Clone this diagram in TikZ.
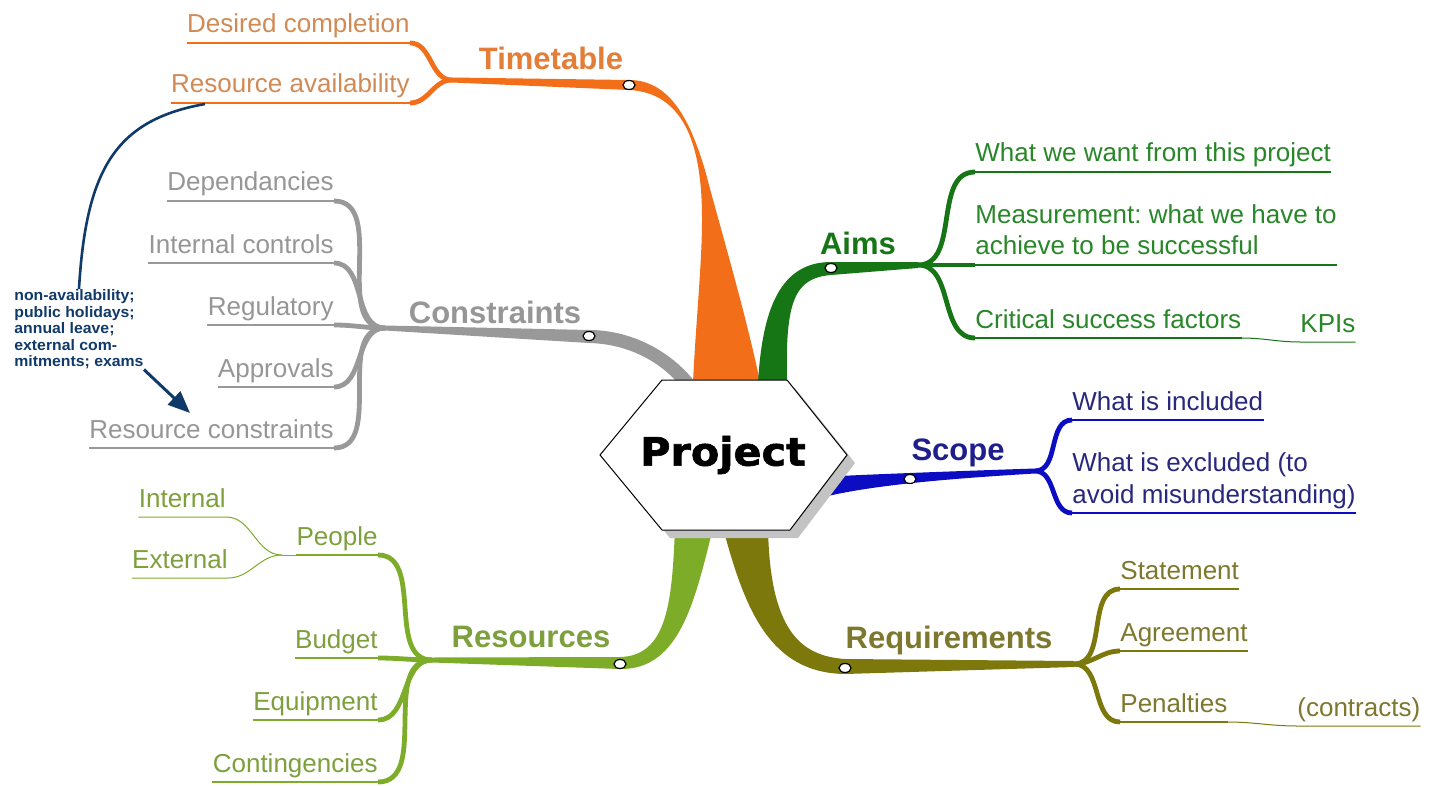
\documentclass[tikz,border=0pt]{standalone}
\usepackage{fontspec}
\setmainfont{Liberation Sans}
\newfontfamily\notefont[FakeStretch=1.04]{Liberation Sans}
\newfontfamily\hubfont[FakeStretch=1.06, FakeBold=1.6]{DejaVu Sans}
\usetikzlibrary{shapes.geometric, arrows.meta}
\frenchspacing

\definecolor{ttline}{RGB}{242,110,25}
\definecolor{tttext}{RGB}{210,138,85}
\definecolor{tttopic}{RGB}{228,125,55}
\definecolor{conline}{RGB}{153,153,153}
\definecolor{context}{RGB}{150,150,150}
\definecolor{aimline}{RGB}{22,118,22}
\definecolor{aimtext}{RGB}{40,135,40}
\definecolor{scpline}{RGB}{12,12,195}
\definecolor{scptext}{RGB}{40,40,125}
\definecolor{scptopic}{RGB}{30,30,140}
\definecolor{reqline}{RGB}{125,120,12}
\definecolor{reqtext}{RGB}{125,120,45}
\definecolor{resline}{RGB}{125,172,40}
\definecolor{restext}{RGB}{125,160,60}
\definecolor{memoblue}{RGB}{15,58,105}
\definecolor{hexshade}{RGB}{195,195,195}

\tikzset{
  leaf/.style={font=\fontsize{13}{16}\selectfont, inner xsep=0pt, inner ysep=2pt, text depth=2.8pt, align=left},
  topic/.style={font=\fontsize{15.5}{18}\selectfont\bfseries, inner sep=0pt},
  knob/.style={ellipse, draw=black, fill=white, line width=0.6pt, minimum width=6pt, minimum height=4.5pt, inner sep=0pt},
  twig/.style={line width=1.4pt},
  bough/.style={line width=2.4pt},
  thread/.style={line width=0.5pt}
}

\begin{document}
\begin{tikzpicture}[x=0.5pt, y=-0.5pt]
    \fill[white] (0,0) rectangle (1433,786);
    \useasboundingbox (0,0) rectangle (1433,786);

    % junctions
    \coordinate (tt-j) at (452,80);
    \coordinate (con-j) at (385,328);
    \coordinate (aim-j) at (918,265);
    \coordinate (scp-j) at (1035,471);
    \coordinate (req-j) at (1074,664);
    \coordinate (res-j) at (432,660);
    \coordinate (ppl-j) at (282,555);

    % topics
    \node[topic, text=tttopic] (tt) at (551,58) {Timetable};
    \node[topic, text=context] (con) at (495,312) {Constraints};
    \node[topic, text=aimline] (aim) at (858,243) {Aims};
    \node[topic, text=scptopic] (scp) at (958,453) {Scope};
    \node[topic, text=reqtext] (req) at (949,640) {Requirements};
    \node[topic, text=restext] (res) at (531,637) {Resources};

    % Timetable
    \node[leaf, anchor=south east, text=tttext] (desired) at (410,43) {Desired completion};
    \node[leaf, anchor=south east, text=tttext] (resavail) at (410,103) {Resource availability};
    \foreach \n in {desired, resavail} {
        \draw[ttline, twig] (\n.south west) -- (\n.south east);
        \draw[ttline, bough] (\n.south east) to[out=0, in=180] (tt-j);
    }

    % Constraints
    \foreach \n/\t/\y in {dep/Dependancies/201, intc/Internal controls/263, reg/Regulatory/325, appr/Approvals/387, rescon/Resource constraints/448} {
        \node[leaf, anchor=south east, text=context] (\n) at (334,\y) {\t};
        \draw[conline, twig] (\n.south west) -- (\n.south east);
        \draw[conline, bough] (\n.south east) to[out=0, in=180] (con-j);
    }

    % Aims
    \node[leaf, anchor=south west, text=aimtext] (want) at (975,172) {What we want from this project};
    \node[leaf, anchor=south west, text=aimtext] (meas) at (975,265) {Measurement: what we have to\\achieve to be successful};
    \node[leaf, anchor=south west, text=aimtext] (csf) at (975,338) {Critical success factors};
    \node[leaf, anchor=south west, text=aimtext] (kpi) at (1300,342) {KPIs};
    \foreach \n in {want, meas, csf} {
        \draw[aimline, bough] (aim-j) to[out=0, in=180] (\n.south west);
        \draw[aimline, twig] (\n.south west) -- (\n.south east);
    }
    \draw[aimline, thread] (csf.south east) to[out=0, in=180] (kpi.south west) -- (kpi.south east);

    % Scope
    \node[leaf, anchor=south west, text=scptext] (incl) at (1072,420) {What is included};
    \node[leaf, anchor=south west, text=scptext] (excl) at (1072,513) {What is excluded (to\\avoid misunderstanding)};
    \foreach \n in {incl, excl} {
        \draw[scpline, bough] (scp-j) to[out=0, in=180] (\n.south west);
        \draw[scpline, twig] (\n.south west) -- (\n.south east);
    }

    % Requirements
    \foreach \n/\t/\y in {stmt/Statement/589, agree/Agreement/651, pen/Penalties/722} {
        \node[leaf, anchor=south west, text=reqtext] (\n) at (1120,\y) {\t};
        \draw[reqline, bough] (req-j) to[out=0, in=180] (\n.south west);
        \draw[reqline, twig] (\n.south west) -- (\n.south east);
    }
    \node[leaf, anchor=south west, text=reqtext] (contr) at (1297,726) {(contracts)};
    \draw[reqline, thread] (pen.south east) to[out=0, in=180] (contr.south west) -- (contr.south east);

    % Resources
    \foreach \n/\t/\y in {people/People/555, budget/Budget/658, equip/Equipment/720, conting/Contingencies/782} {
        \node[leaf, anchor=south east, text=restext] (\n) at (378,\y) {\t};
        \draw[resline, twig] (\n.south west) -- (\n.south east);
        \draw[resline, bough] (\n.south east) to[out=0, in=180] (res-j);
    }
    \node[leaf, anchor=south east, text=restext] (internal) at (226,517) {Internal};
    \node[leaf, anchor=south east, text=restext] (external) at (228,578) {External};
    \foreach \n in {internal, external} {
        \draw[resline, thread] (\n.south west) -- (\n.south east) to[out=0, in=180] (ppl-j);
    }
    \draw[resline, thread] (ppl-j) -- (people.south west);

    % main branches
    \fill[ttline] (452,77.5) -- (629,80) .. controls (670,80) and (690,120) .. (705,170)
        .. controls (718,220) and (745,310) .. (760,382) -- (693,382)
        .. controls (697,300) and (706,230) .. (700,180) .. controls (694,125) and (672,92) .. (629,90)
        -- (452,82.5) -- cycle;
    \fill[conline] (385,325.5) -- (589,330) .. controls (630,330) and (670,350) .. (695,382)
        -- (677,382) .. controls (662,365) and (632,344) .. (589,343) -- (385,330.5) -- cycle;
    \fill[aimline] (758,382) .. controls (762,320) and (775,262) .. (831,262) -- (918,262)
        -- (918,268) -- (831,275) .. controls (795,278) and (785,300) .. (787,382) -- cycle;
    \fill[scpline] (828,496) -- (840,476) .. controls (880,474) and (960,471) .. (1035,468.5)
        -- (1035,473.5) .. controls (960,478) and (880,484) .. (828,496) -- cycle;
    \fill[reqline] (723,528) .. controls (745,610) and (770,673) .. (845,674) -- (1074,667)
        -- (1074,661) -- (845,659) .. controls (800,656) and (770,630) .. (768,528) -- cycle;
    \fill[resline] (675,528) .. controls (672,600) and (668,656) .. (620,657) -- (432,657.5)
        -- (432,662.5) -- (620,669) .. controls (680,670) and (695,600) .. (713,528) -- cycle;

    % hub
    \fill[hexshade] (608,463) -- (670,388) -- (795,388) -- (855,463) -- (798,538) -- (670,538) -- cycle;
    \draw[fill=white, line width=0.5pt] (600,455) -- (662,380) -- (787,380) -- (847,455) -- (790,530) -- (662,530) -- cycle;
    \node[font=\hubfont\bfseries\fontsize{19.5}{22}\selectfont] (project) at (723,455) {Project};

    % knobs
    \node[knob] (tt-k) at (629,85) {};
    \node[knob] (con-k) at (589,336) {};
    \node[knob] (aim-k) at (831,268) {};
    \node[knob] (scp-k) at (910,479) {};
    \node[knob] (req-k) at (845,668) {};
    \node[knob] (res-k) at (620,664) {};

    % note on availability
    \node[anchor=north west, inner sep=0pt, align=left, text=memoblue,
          font=\notefont\bfseries\fontsize{7.6}{8.3}\selectfont] (memo) at (14,289)
          {non-availability;\\public holidays;\\annual leave;\\external com-\\mitments; exams};
    \coordinate (avail-tap) at (205,104);
    \coordinate (memo-tip) at (190,413);
    \draw[memoblue, line width=1.3pt] (avail-tap) .. controls (115,120) and (86,170) .. (memo.north);
    \draw[memoblue, line width=1.5pt, -{Triangle[length=11pt, width=9pt]}] (memo.south east) -- (memo-tip);
\end{tikzpicture}
\end{document}
